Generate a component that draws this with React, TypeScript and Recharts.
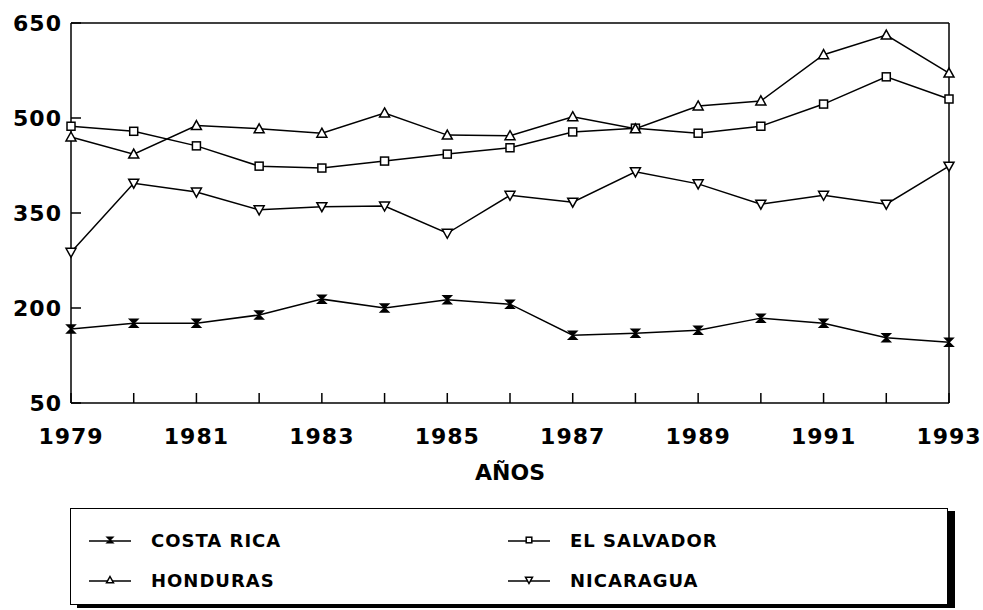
import { LineChart, Line, XAxis, YAxis, ReferenceLine, Label } from "recharts";

const FONT = "'DejaVu Sans', sans-serif";

// años y series
const years = [1979, 1980, 1981, 1982, 1983, 1984, 1985, 1986, 1987, 1988, 1989, 1990, 1991, 1992, 1993];
const costaRica = [167, 176, 176, 189, 214, 200, 213, 206, 157, 160, 165, 184, 176, 153, 146];
const elSalvador = [487, 479, 456, 424, 421, 432, 443, 453, 478, 484, 476, 487, 522, 565, 530];
const honduras = [470, 443, 488, 483, 476, 508, 473, 472, 502, 483, 519, 527, 600, 631, 571];
const nicaragua = [288, 397, 383, 355, 360, 361, 318, 378, 367, 415, 396, 364, 378, 364, 424];
const yTicks = [50, 200, 350, 500, 650];

const seriesNames = ["COSTA RICA", "EL SALVADOR", "HONDURAS", "NICARAGUA"];
const seriesKeys = ["cr", "sv", "hn", "ni"];
const seriesShapes = ["hourglass", "square", "up", "down"];

const data = years.map((year, i) => ({
  year,
  cr: costaRica[i],
  sv: elSalvador[i],
  hn: honduras[i],
  ni: nicaragua[i],
}));

// s = medio tamaño del marcador
function MarkerShape({ shape, cx, cy, s = 5 }: { shape: string; cx: number; cy: number; s?: number }) {
  const h = s * 0.8;
  if (shape === "square") {
    return <rect x={cx - h} y={cy - h} width={h * 2} height={h * 2} fill="#fff" stroke="#000" strokeWidth={1.5} />;
  }
  if (shape === "up") {
    return (
      <path d={`M${cx},${cy - s} L${cx + s},${cy + h} L${cx - s},${cy + h} Z`} fill="#fff" stroke="#000" strokeWidth={1.5} />
    );
  }
  if (shape === "down") {
    return (
      <path d={`M${cx - s},${cy - h} L${cx + s},${cy - h} L${cx},${cy + s} Z`} fill="#fff" stroke="#000" strokeWidth={1.5} />
    );
  }
  return (
    <path
      d={`M${cx - h},${cy - h} L${cx + h},${cy - h} L${cx - h},${cy + h} L${cx + h},${cy + h} Z`}
      fill="#000"
      stroke="#000"
      strokeWidth={1.5}
    />
  );
}

const makeDot = (shape: string) => (props: any) =>
  <MarkerShape key={`${shape}-${props.index}`} shape={shape} cx={props.cx} cy={props.cy} />;

const tickStyle = { fill: "#000", fontSize: 22, fontWeight: 700, fontFamily: FONT, letterSpacing: 1 };

export default function App() {
  return (
    <div style={{ position: "absolute", left: 0, top: 0, width: 983, height: 610, background: "#fff" }}>
      <LineChart width={983} height={610} data={data} margin={{ top: 23, right: 34, left: 0, bottom: 127 }}>
        <XAxis
          dataKey="year"
          type="number"
          domain={[1979, 1993]}
          ticks={years}
          interval={0}
          height={80}
          tickSize={-10}
          tickMargin={35}
          tickFormatter={(v) => (v % 2 === 1 ? String(v) : "")}
          tick={tickStyle}
          axisLine={{ stroke: "#000", strokeWidth: 1.5 }}
          tickLine={{ stroke: "#000", strokeWidth: 1.5 }}
        >
          <Label
            value="AÑOS"
            position="insideBottom"
            offset={3}
            style={{ fill: "#000", fontSize: 22, fontWeight: 700, fontFamily: FONT }}
          />
        </XAxis>
        <YAxis
          type="number"
          domain={[50, 650]}
          ticks={yTicks}
          width={71}
          tickSize={-10}
          tickMargin={19}
          tick={tickStyle}
          axisLine={{ stroke: "#000", strokeWidth: 1.5 }}
          tickLine={{ stroke: "#000", strokeWidth: 1.5 }}
        />
        <ReferenceLine y={650} stroke="#000" strokeWidth={1.5} />
        <ReferenceLine x={1993} stroke="#000" strokeWidth={1.5} />
        {seriesKeys.map((k, i) => (
          <Line
            key={k}
            dataKey={k}
            name={seriesNames[i]}
            type="linear"
            stroke="#000"
            strokeWidth={1.5}
            dot={makeDot(seriesShapes[i])}
            activeDot={false}
            isAnimationActive={false}
          />
        ))}
      </LineChart>
      <div
        style={{
          position: "absolute",
          left: 70,
          top: 508,
          width: 876,
          height: 95,
          border: "1.5px solid #000",
          boxShadow: "7px 3px 0 0 #000",
          background: "#fff",
          fontFamily: FONT,
          fontWeight: 700,
          fontSize: 18,
          letterSpacing: 1,
        }}
      >
        {seriesNames.map((name, i) => {
          const col = i === 0 || i === 2 ? 0 : 1;
          const row = i < 2 ? 0 : 1;
          const left = col === 0 ? 18 : 437;
          const top = row === 0 ? 32 : 72;
          return (
            <div
              key={name}
              style={{ position: "absolute", left, top: top - 12, height: 24, display: "flex", alignItems: "center" }}
            >
              <svg width={44} height={24} style={{ display: "block" }}>
                <line x1={0} y1={12} x2={42} y2={12} stroke="#000" strokeWidth={1.5} />
                <MarkerShape shape={seriesShapes[i]} cx={21} cy={11} s={3.5} />
              </svg>
              <span style={{ marginLeft: 18, lineHeight: "24px", whiteSpace: "nowrap" }}>{name}</span>
            </div>
          );
        })}
      </div>
    </div>
  );
}
